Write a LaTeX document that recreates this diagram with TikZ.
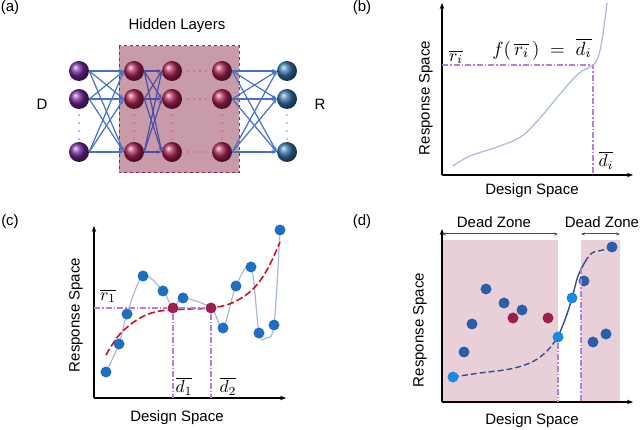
\RequirePackage{fix-cm}
\documentclass[tikz,border=0pt]{standalone}
\usepackage{fontspec}
\usepackage{graphicx}
\setmainfont{Liberation Sans}
\usetikzlibrary{arrows.meta}

\definecolor{inpurple}{HTML}{6E2496}
\definecolor{hidred}{HTML}{A61F52}
\definecolor{outblue}{HTML}{2F6FA5}
\definecolor{linkblue}{HTML}{4472C4}
\definecolor{linkdark}{HTML}{4A50A8}
\definecolor{boxfill}{HTML}{C89BA8}
\definecolor{boxline}{HTML}{8B2A4A}
\definecolor{guide}{HTML}{B07FE0}
\definecolor{curvegray}{HTML}{A8B8DC}
\definecolor{fitred}{HTML}{C8141E}
\definecolor{dotblue}{HTML}{1F6FC0}
\definecolor{dotdark}{HTML}{2A5FA8}
\definecolor{dotlight}{HTML}{1A8AE0}
\definecolor{dotred}{HTML}{9B2050}
\definecolor{zone}{HTML}{E8CFD8}
\definecolor{fitblue}{HTML}{2F4F8F}

\newcommand{\bigmath}[1]{\scalebox{1.75}{$#1$}}

\tikzset{
  ball/.style={circle, minimum size=20pt, inner sep=0pt, shading=ball},
  link/.style={linkblue, line width=1.2pt, -{Stealth[length=5pt]}},
  axis/.style={line width=1.6pt, -{Stealth[length=6pt]}},
  guideline/.style={guide, line width=1.2pt, dash pattern=on 6pt off 2pt on 1.5pt off 2pt},
  pt/.style={circle, inner sep=0pt, minimum size=11pt},
  lbl/.style={font=\fontsize{15}{17}\selectfont},
  mlbl/.style={inner sep=1pt},
}

\begin{document}
\begin{tikzpicture}[x=1pt, y=-1pt]
    \useasboundingbox (0,0) rectangle (640,430);

    % ---------- (a) network ----------
    \node[lbl] (tagA) at (10,8) {(a)};
    \fill[boxfill] (119,46) rectangle (239,173);
    \draw[boxline, line width=1pt, dashed] (119,46) rectangle (239,173);
    \node[lbl] (hidden) at (177,26) {Hidden Layers};
    \node[lbl] (lblD) at (42,104) {D};
    \node[lbl] (lblR) at (320,104) {R};

    % draw spheres
    \foreach \r/\y in {0/71,1/99,2/152} {
      \node[ball, ball color=inpurple] (in\r) at (79,\y) {};
      \node[ball, ball color=hidred] (ha\r) at (134,\y) {};
      \node[ball, ball color=hidred] (hb\r) at (172,\y) {};
      \node[ball, ball color=hidred] (hc\r) at (222,\y) {};
      \node[ball, ball color=outblue] (out\r) at (287,\y) {};
    }

    % draw links
    \foreach \i in {0,1,2}
      \foreach \j in {0,1,2} {
        \draw[link] (in\i.east) -- (ha\j.west);
        \draw[link, linkdark] (ha\i.east) -- (hb\j.west);
        \draw[link] (hc\i.east) -- (out\j.west);
      }

    % draw dots
    \foreach \c/\x in {inpurple/79,hidred/134,hidred/172,hidred/222,outblue/287}
      \foreach \y in {115,123,131,139}
        \fill[\c!70] (\x,\y) circle (0.8pt);
    \foreach \r/\y in {0/71,1/99,2/152}
      \foreach \x in {188,194,200,206}
        \fill[hidred!70] (\x,\y) circle (0.8pt);

    % ---------- (b) mapping ----------
    \node[lbl] (tagB) at (362,8) {(b)};
    \coordinate (bo) at (442,175);
    \coordinate (by) at (442,3);
    \coordinate (bx) at (633,175);
    \draw[axis] (bo) -- (by);
    \draw[axis] (bo) -- (bx);
    \node[lbl, rotate=90] (bresp) at (426,98) {Response Space};
    \node[lbl] (bdes) at (532,191) {Design Space};
    \coordinate (bri) at (442,65);
    \coordinate (bhit) at (593,65);
    \coordinate (bdi) at (593,175);
    \draw[guideline] (bri) -- (bhit) -- (bdi);
    \draw[curvegray, line width=1.2pt] plot[smooth, tension=0.6] coordinates
      {(453,166) (470,156) (500,146) (522,136) (540,118) (560,94) (578,74) (590,67) (597,60) (602,40) (607,3)};
    \node[mlbl] (bril) at (456,57) {\bigmath{\overline{r_i}}};
    \node[mlbl] (bfl) at (542,49) {\scalebox{1.9}{$f(\,\overline{r_i}\,)\;=\;\overline{d_i}$}};
    \node[mlbl] (bdil) at (606,160) {\bigmath{\overline{d_i}}};

    % ---------- (c) fit ----------
    \node[lbl] (tagC) at (10,222) {(c)};
    \coordinate (co) at (94,398);
    \coordinate (cy) at (94,226);
    \coordinate (cx) at (286,398);
    \draw[axis] (co) -- (cy);
    \draw[axis] (co) -- (cx);
    \node[lbl, rotate=90] (cresp) at (76,315) {Response Space};
    \node[lbl] (cdes) at (177,418) {Design Space};
    \coordinate (cr1) at (94,308);
    \coordinate (cb1) at (173,398);
    \coordinate (cb2) at (211,398);
    \draw[curvegray, line width=1.2pt] plot[smooth, tension=0.55] coordinates
      {(106,372) (119,344) (127,314) (143,276) (163,291) (173,308) (183,298) (211,308) (223,328) (236,286) (251,267) (259,333) (266,338) (274,325) (280,230)};
    \draw[fitred, line width=1.6pt, dash pattern=on 7pt off 3pt] plot[smooth, tension=0.6] coordinates
      {(106,355) (120,334) (140,318) (160,311) (190,309) (211,308) (232,303) (252,290) (267,270) (280,242)};
    \foreach \n/\x/\y in {1/106/372,2/119/344,3/127/314,4/143/276,5/163/291,6/183/298,7/223/328,8/236/286,9/251/267,10/259/333,11/274/325,12/280/230}
      \node[pt, fill=dotblue] (cp\n) at (\x,\y) {};
    \node[pt, fill=dotred] (cm1) at (173,308) {};
    \node[pt, fill=dotred] (cm2) at (211,308) {};
    \draw[guideline] (cr1) -- (cm1);
    \draw[guideline] (cm1) -- (cm2);
    \draw[guideline] (cm1) -- (cb1);
    \draw[guideline] (cm2) -- (cb2);
    \node[mlbl] (crl) at (108,296) {\bigmath{\overline{r_1}}};
    \node[mlbl] (cd1) at (184,386) {\bigmath{\overline{d_1}}};
    \node[mlbl] (cd2) at (228,386) {\bigmath{\overline{d_2}}};

    % ---------- (d) dead zones ----------
    \node[lbl] (tagD) at (362,222) {(d)};
    \fill[zone] (442,240) rectangle (558,402);
    \fill[zone] (581,240) rectangle (620,402);
    \coordinate (do) at (442,402);
    \coordinate (dy) at (442,229);
    \coordinate (dx) at (633,402);
    \draw[axis] (do) -- (dy);
    \draw[axis] (do) -- (dx);
    \node[lbl, rotate=90] (dresp) at (420,330) {Response Space};
    \node[lbl] (ddes) at (532,421) {Design Space};
    \coordinate (dz1a) at (442,234);
    \coordinate (dz1b) at (558,234);
    \coordinate (dz2a) at (581,234);
    \coordinate (dz2b) at (620,234);
    \draw[boxline, line width=1pt, {Stealth[length=4pt]}-{Stealth[length=4pt]}] (dz1a) -- (dz1b);
    \draw[boxline, line width=1pt, {Stealth[length=4pt]}-{Stealth[length=4pt]}] (dz2a) -- (dz2b);
    \node[lbl] (dzl1) at (494,222) {Dead Zone};
    \node[lbl] (dzl2) at (602,222) {Dead Zone};
    \coordinate (dg1) at (558,402);
    \coordinate (dg2t) at (581,268);
    \coordinate (dg2) at (581,402);
    \draw[fitblue, line width=1.4pt, dash pattern=on 6pt off 3pt] plot[smooth, tension=0.6] coordinates
      {(453,377) (480,373) (510,369) (532,362) (547,351) (558,337)};
    \draw[fitblue, line width=1.4pt] plot[smooth, tension=0.6] coordinates
      {(558,337) (566,317) (572,298) (578,276) (585,262)};
    \draw[fitblue, line width=1.4pt, dash pattern=on 6pt off 3pt] plot[smooth, tension=0.6] coordinates
      {(585,262) (592,253) (603,250) (612,247)};
    \foreach \n/\x/\y in {2/464/352,3/472/324,4/486/289,5/504/303,6/522/310,9/584/281,10/593/342,11/606/334,12/612/247}
      \node[pt, fill=dotdark] (dp\n) at (\x,\y) {};
    \node[pt, fill=dotlight] (dp1) at (453,377) {};
    \node[pt, fill=dotlight] (dp7) at (558,337) {};
    \node[pt, fill=dotlight] (dp8) at (572,298) {};
    \node[pt, fill=dotred] (dm1) at (513,318) {};
    \node[pt, fill=dotred] (dm2) at (548,318) {};
    \draw[guideline] (dp7) -- (dg1);
    \draw[guideline] (dg2t) -- (dg2);
  \end{tikzpicture}
\end{document}
